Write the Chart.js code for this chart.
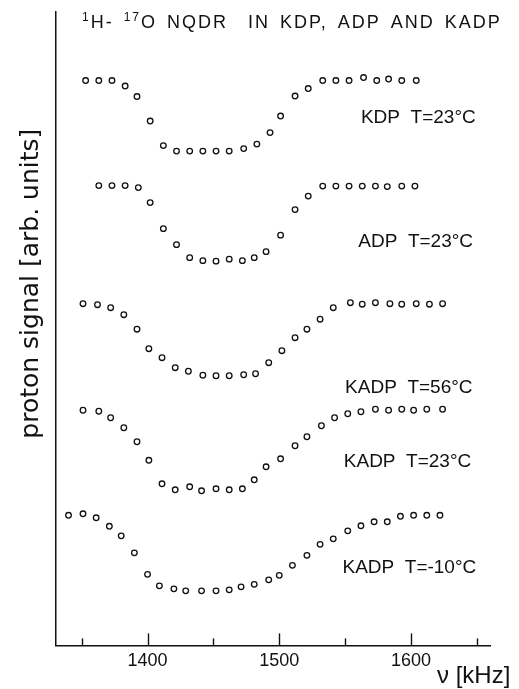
<!DOCTYPE html>
<html>
<head>
<meta charset="utf-8">
<script src="https://cdn.jsdelivr.net/npm/chart.js@4/dist/chart.umd.min.js"></script>
<style>
html,body{margin:0;padding:0;background:#fff;}
#wrap{width:519px;height:689px;position:relative;}
</style>
</head>
<body>
<div id="wrap"><canvas id="c"></canvas></div>
<script>
// ---- data (frequency in kHz, proton signal in arb. units, curves stacked) ----
const kdpFreq   = [1353,1363,1373,1383,1392,1402,1412,1422,1432,1442,1452,1462,1473,1483,1493,1501,1512,1522,1533,1543,1553,1564,1574,1583,1593,1604];
const kdpSignal = [112.9,112.9,112.9,111.8,109.7,104.8,99.9,98.8,98.8,98.8,98.8,98.8,99.3,100.2,102.5,105.8,109.8,111.3,112.9,112.9,112.9,113.5,112.9,113.2,112.9,112.9];

const adpFreq   = [1363,1373,1383,1393,1402,1412,1422,1432,1442,1452,1462,1472,1481,1490,1501,1512,1522,1533,1543,1553,1563,1573,1582,1593,1603];
const adpSignal = [91.9,91.9,91.9,91.5,88.5,83.3,80.1,77.5,76.9,76.8,77.2,76.9,77.5,78.7,82.0,87.1,89.8,91.8,91.8,91.8,91.8,91.8,91.7,91.8,91.8];

const kadp56Freq   = [1351,1362,1372,1382,1392,1401,1411,1421,1431,1442,1452,1462,1473,1482,1492,1502,1512,1521,1531,1541,1554,1563,1573,1584,1593,1604,1614,1624];
const kadp56Signal = [68.3,68.1,67.5,66.1,63.2,59.3,57.5,55.5,54.8,54.0,53.9,53.9,54.1,54.3,56.5,58.9,61.5,63.2,65.2,67.5,68.5,68.2,68.5,68.3,68.2,68.3,68.2,68.3];

const kadp23Freq   = [1351,1363,1372,1382,1392,1401,1411,1421,1432,1441,1452,1462,1472,1481,1490,1501,1512,1521,1532,1542,1552,1562,1573,1583,1593,1602,1612,1624];
const kadp23Signal = [47.0,46.8,45.5,43.5,40.7,37.0,32.3,31.1,31.7,30.9,31.3,31.1,31.3,33.1,35.7,37.3,39.9,41.7,43.9,45.5,46.3,46.7,47.2,47.0,47.2,47.0,47.2,47.2];

const kadpM10Freq   = [1340,1351,1361,1371,1380,1390,1400,1409,1420,1429,1441,1452,1462,1471,1481,1492,1500,1510,1521,1531,1541,1552,1562,1572,1582,1592,1602,1612,1622];
const kadpM10Signal = [26.0,26.3,25.5,23.8,21.9,18.5,14.2,11.9,11.3,10.9,10.9,10.9,11.1,11.7,12.2,13.1,14.0,16.0,18.0,20.2,21.3,22.9,23.9,24.7,24.7,25.8,26.0,26.0,26.0];

const seriesNames  = ["KDP  T=23°C", "ADP  T=23°C", "KADP  T=56°C", "KADP  T=23°C", "KADP  T=-10°C"];
const labelFreq    = [1562, 1560, 1550, 1549, 1548];
const labelSignal  = [104.4, 79.6, 50.4, 35.6, 14.4];

const xTickValues  = [1350,1400,1450,1500,1550,1600,1650];
const xMin = 1330.5, xMax = 1660, yMin = 0, yMax = 126.6;

const titleParts = [["1",true],["H- ",false],["17",true],["O NQDR  IN KDP, ADP AND KADP",false]];
const xAxisLabel = "ν [kHz]";
const yAxisLabel = "proton signal [arb. units]";

// ---- chart ----
const freqs = [kdpFreq, adpFreq, kadp56Freq, kadp23Freq, kadpM10Freq];
const sigs  = [kdpSignal, adpSignal, kadp56Signal, kadp23Signal, kadpM10Signal];
const datasets = seriesNames.map((n,i)=>({
  label:n,
  data:freqs[i].map((f,j)=>({x:f,y:sigs[i][j]})),
  showLine:false,
  pointStyle:'circle',
  pointRadius:2.8,
  pointBorderWidth:1.3,
  borderColor:'#111',
  backgroundColor:'#fff',
  pointBackgroundColor:'#fff',
  pointBorderColor:'#111'
}));

const ink = '#111';
const annot = {
  id:'annot',
  afterDraw(chart){
    const {ctx, chartArea:a, scales:{x,y}} = chart;
    ctx.save();
    // inward tick marks
    ctx.strokeStyle = ink; ctx.lineWidth = 1.4;
    x.ticks.forEach(t=>{
      const px = Math.round(x.getPixelForValue(t.value))+0.5;
      const len = (t.value % 100 === 0) ? 12 : 7;
      ctx.beginPath(); ctx.moveTo(px, a.bottom); ctx.lineTo(px, a.bottom-len); ctx.stroke();
    });
    ctx.fillStyle = ink;
    // series labels
    ctx.font = '19px "Liberation Sans", Arial, sans-serif';
    ctx.textAlign = 'left'; ctx.textBaseline = 'alphabetic';
    seriesNames.forEach((n,i)=>ctx.fillText(n, x.getPixelForValue(labelFreq[i]), y.getPixelForValue(labelSignal[i])));
    // x axis label
    ctx.font = '24px "Liberation Sans", Arial, sans-serif';
    ctx.fillText(xAxisLabel, a.right-53, a.bottom+38);
    // y axis label
    ctx.save();
    ctx.translate(a.left-18, (a.top+a.bottom)/2 - 45);
    ctx.rotate(-Math.PI/2);
    ctx.font = '25px "DejaVu Sans", sans-serif';
    ctx.textAlign = 'center';
    ctx.fillText(yAxisLabel, 0, 0);
    ctx.restore();
    // title with superscripts
    let tx = a.left + 26; const ty = a.top + 16;
    ctx.textAlign = 'left';
    try { ctx.wordSpacing = '3px'; ctx.letterSpacing = '2px'; } catch(e) {}
    titleParts.forEach(([t,sup])=>{
      ctx.font = sup ? '12px "Liberation Sans", Arial, sans-serif' : '18px "Liberation Sans", Arial, sans-serif';
      ctx.fillText(t, tx, sup ? ty-7 : ty);
      tx += ctx.measureText(t).width;
    });
    ctx.restore();
  }
};

new Chart(document.getElementById('c'), {
  type:'scatter',
  data:{datasets},
  options:{
    responsive:true,
    maintainAspectRatio:false,
    animation:false,
    devicePixelRatio:1,
    layout:{padding:{left:56, top:12, right:29, bottom:12}},
    plugins:{legend:{display:false}, tooltip:{enabled:false}, title:{display:false}},
    scales:{
      x:{
        type:'linear', min:xMin, max:xMax,
        afterBuildTicks:s=>{ s.ticks = xTickValues.map(v=>({value:v})); },
        grid:{display:false, drawTicks:false},
        border:{display:true, color:ink, width:1.5},
        ticks:{
          padding:5,
          color:ink,
          font:{family:'"Liberation Sans", Arial, sans-serif', size:18},
          maxRotation:0, autoSkip:false,
          callback:v=> (v % 100 === 0) ? String(v) : ''
        }
      },
      y:{
        type:'linear', min:yMin, max:yMax,
        grid:{display:false, drawTicks:false},
        border:{display:true, color:ink, width:1.5},
        ticks:{display:false}
      }
    }
  },
  plugins:[annot]
});
</script>
</body>
</html>
